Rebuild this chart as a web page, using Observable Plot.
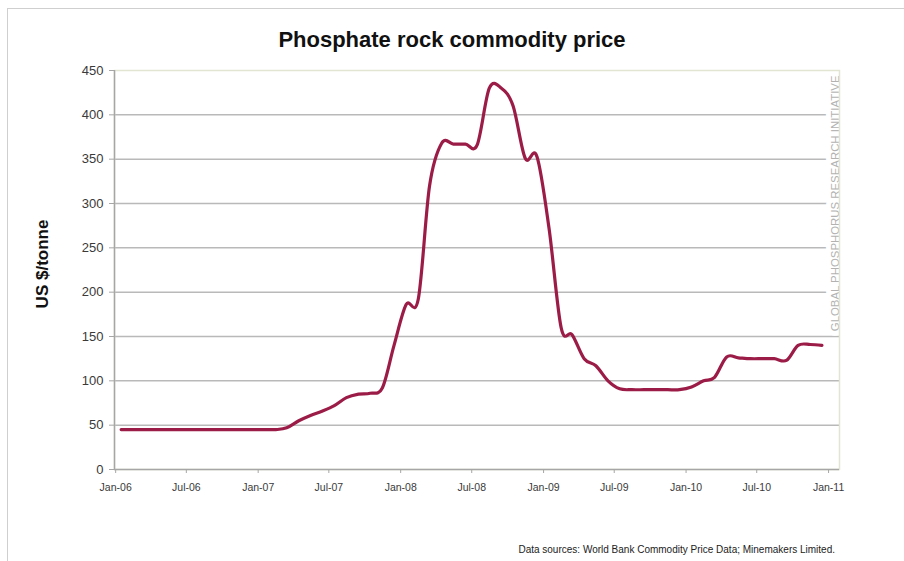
<!DOCTYPE html>
<html>
<head>
<meta charset="utf-8">
<script src="https://cdn.jsdelivr.net/npm/d3@7"></script>
<script src="https://cdn.jsdelivr.net/npm/@observablehq/plot@0.6"></script>
<style>
  body { margin: 0; background: #fff; font-family: "Liberation Sans", Arial, sans-serif; }
  #wrap { position: relative; width: 904px; height: 561px; overflow: hidden; }
  #border { position: absolute; left: 7px; top: 8px; right: -10px; bottom: -10px;
            border-top: 1px solid #cfcfcf; border-left: 1px solid #cfcfcf; }
  #title { position: absolute; top: 29px; left: 0; width: 904px; text-align: center;
           font-weight: bold; font-size: 22px; line-height: 22px; color: #111; }
  #chart { position: absolute; left: 0; top: 60px; }
  #source { position: absolute; right: 69px; top: 545px; font-size: 10px; line-height: 10px; color: #222; }
</style>
</head>
<body>
<div id="wrap">
  <div id="border"></div>
  <div id="title">Phosphate rock commodity price</div>
  <div id="chart"></div>
  <div id="source">Data sources: World Bank Commodity Price Data; Minemakers Limited.</div>
</div>
<script>
// Monthly phosphate rock price, US$/tonne, Jan 2006 – Dec 2010
const firstMonth = "2006-01";
const prices = [
  // 2006
  45, 45, 45, 45, 45, 45, 45, 45, 45, 45, 45, 45,
  // 2007
  45, 45, 47, 55, 61, 66, 72, 81, 85, 86, 92, 140,
  // 2008
  186, 192, 320, 368, 367, 367, 366, 430, 430, 410, 351, 353,
  // 2009
  272, 160, 152, 125, 117, 100, 91, 90, 90, 90, 90, 90,
  // 2010
  93, 100, 104, 127, 126, 125, 125, 125, 123, 140, 141, 140
];

// Axis ticks
const xTickMonths = ["2006-01", "2006-07", "2007-01", "2007-07", "2008-01", "2008-07",
                     "2009-01", "2009-07", "2010-01", "2010-07", "2011-01"];
const yTicks = [0, 50, 100, 150, 200, 250, 300, 350, 400, 450];
const gridValues = [50, 100, 150, 200, 250, 300, 350, 400];
const xDomain = [new Date(Date.UTC(2005, 11, 29)), new Date(Date.UTC(2011, 0, 29))];
const yDomain = [0, 450];

const parseMonth = d3.utcParse("%Y-%m");
// observations sit at mid-month
const start = parseMonth(firstMonth);
const data = prices.map((price, i) => ({
  date: d3.utcDay.offset(d3.utcMonth.offset(start, i), 14),
  price
}));
const xTicks = xTickMonths.map(parseMonth);

const chart = Plot.plot({
  width: 904,
  height: 470,
  marginTop: 10,
  marginBottom: 61,
  marginLeft: 114,
  marginRight: 65,
  style: { fontFamily: "Liberation Sans, Arial, sans-serif", background: "transparent" },
  x: { type: "utc", domain: xDomain },
  y: { domain: yDomain },
  marks: [
    Plot.ruleY(gridValues, { stroke: "#b9b9b9", strokeWidth: 1.5 }),
    Plot.text(["GLOBAL PHOSPHORUS RESEARCH INITIATIVE"], {
      frameAnchor: "top-right", rotate: -90, textAnchor: "end",
      dx: -9, dy: 5, fontSize: 11.4, fill: "#b2b2b2",
      stroke: "white", strokeWidth: 10, strokeLinejoin: "round", paintOrder: "stroke"
    }),
    Plot.line(data, {
      x: "date", y: "price", curve: "cardinal",
      stroke: "#9c1c48", strokeWidth: 3.2, strokeLinejoin: "round"
    }),
    Plot.frame({ stroke: "#e3e5d3", strokeWidth: 1.5 }),
    Plot.ruleY([0], { stroke: "#a6a6a6", strokeWidth: 1.5 }),
    Plot.ruleX([xDomain[0]], { stroke: "#a6a6a6", strokeWidth: 1.5 }),
    Plot.axisY(yTicks, {
      tickSize: 5, tickPadding: 6, fontSize: 13, color: "#3a3a3a",
      stroke: "#a6a6a6", label: null
    }),
    Plot.axisX(xTicks, {
      tickSize: 4, tickPadding: 10, fontSize: 10.5, color: "#3a3a3a",
      stroke: "#a6a6a6", tickFormat: d3.utcFormat("%b-%y"), label: null
    }),
    Plot.text(["US $/tonne"], {
      frameAnchor: "left", rotate: -90, textAnchor: "middle", dx: -72, dy: -6,
      fontSize: 17, fontWeight: "bold", fill: "#111"
    })
  ]
});
document.getElementById("chart").appendChild(chart);
</script>
</body>
</html>
